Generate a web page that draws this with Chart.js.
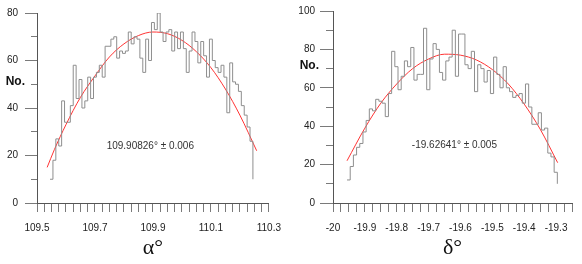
<!DOCTYPE html>
<html><head><meta charset="utf-8">
<script src="https://cdn.jsdelivr.net/npm/chart.js@4.4.1/dist/chart.umd.min.js"></script>
<style>
html,body{margin:0;padding:0;background:#fff;}
#wrap{position:relative;width:582px;height:264px;overflow:hidden;background:#fff;}
canvas{position:absolute;top:0;}
</style></head><body>
<div id="wrap">
<canvas id="c1" width="291" height="264" style="left:0px"></canvas>
<canvas id="c2" width="291" height="264" style="left:291px"></canvas>
</div>
<script>
// ---------------- data ----------------
const binWidth = 0.01;
const alphaBinStart = 109.545;
const alphaCounts = [10,18,27,24,43,34,34,41,58,44,52,40,43,53,44,53,55,58,53,66,
                     66,69,70,61,64,63,64,72,67,70,69,61,55,69,60,76,73,80,72,68,
                     72,73,64,72,65,72,65,55,64,72,68,59,68,62,53,69,60,57,55,58,
                     53,38,59,51,50,47,41,37,32,26];
const alphaEndValue = 10;
const alphaFitX = [109.535,109.56,109.6,109.65,109.7,109.75,109.8,109.85,109.9,109.95,110.0,110.05,110.1,110.15,110.2,110.258];
const alphaFitY = [15,22.5,33,44.5,53.5,61.5,67,70.5,72,71.3,68.5,63.7,57,48,37,22];
const alphaTickLabels = ['109.5','109.7','109.9','110.1','110.3'];
const alphaNote = '109.90826\u00B0 \u00B1 0.006';

const deltaBinStart = -19.956;
const deltaCounts = [12,19,25,29,31,37,43,49,48,54,53,52,45,57,79,71,59,66,74,71,
                     81,64,67,67,91,59,75,83,80,68,64,74,76,90,66,88,88,72,70,79,
                     58,72,70,63,69,57,76,67,60,71,60,58,55,56,57,52,62,50,41,41,
                     47,38,39,26,24,16];
const deltaEndValue = 10;
const deltaFitX = [-19.956,-19.9,-19.85,-19.8,-19.75,-19.7,-19.65,-19.6,-19.55,-19.5,-19.45,-19.4,-19.35,-19.295];
const deltaFitY = [22,39,52,62,70,75,77.5,77,74.5,69.5,62,51.5,38.5,21];
const deltaTickLabels = ['-20','-19.9','-19.8','-19.7','-19.6','-19.5','-19.4','-19.3'];
const deltaNote = '-19.62641\u00B0 \u00B1 0.005';

const yLabelText = 'No.';
// -----------------------------------------------------------------

Chart.defaults.font.family = "'Liberation Sans', Arial, sans-serif";

function histPoints(start, counts, endVal) {
  const pts = counts.map((c, i) => ({x: +(start + i * binWidth).toFixed(4), y: c}));
  pts.push({x: +(start + counts.length * binWidth).toFixed(4), y: endVal});
  return pts;
}

function build(id, o) {
  const textPlugin = {
    id: 'extraText' + id,
    afterDraw(chart) {
      const {ctx} = chart;
      const xs = chart.scales.x, ys = chart.scales.y;
      ctx.save();
      ctx.fillStyle = '#333';
      ctx.font = "10px 'Liberation Sans', Arial, sans-serif";
      ctx.textAlign = 'center';
      ctx.textBaseline = 'middle';
      ctx.fillText(o.note, xs.getPixelForValue(o.noteX), ys.getPixelForValue(o.noteY));
      ctx.fillStyle = '#111';
      ctx.font = "bold 12px 'Liberation Sans', Arial, sans-serif";
      ctx.textAlign = 'right';
      ctx.fillText(yLabelText, o.noRight, ys.getPixelForValue(o.noValue));
      ctx.restore();
    }
  };
  return new Chart(document.getElementById(id), {
    type: 'line',
    data: {
      datasets: [
        {data: histPoints(o.binStart, o.counts, o.endValue), borderColor: '#8e8e8e', borderWidth: 1,
         stepped: true, pointRadius: 0, fill: false},
        {data: o.fitX.map((x, i) => ({x: x, y: o.fitY[i]})), borderColor: 'rgba(255,30,30,0.9)', borderWidth: 1,
         tension: 0.4, cubicInterpolationMode: 'monotone', pointRadius: 0, fill: false}
      ]
    },
    options: {
      responsive: false, animation: false, devicePixelRatio: 1,
      layout: {padding: o.pad},
      plugins: {legend: {display: false}, tooltip: {enabled: false}},
      scales: {
        x: {
          type: 'linear', min: o.xMin, max: o.xMax,
          afterFit: s => { s.height = 61; },
          ticks: {stepSize: 0.025, autoSkip: false, maxRotation: 0, minRotation: 0, padding: 10,
                  color: '#222', font: {size: 10},
                  callback: (v, i) => (i % o.xEvery === 0 && o.xLabels[i / o.xEvery] !== undefined) ? o.xLabels[i / o.xEvery] : ''},
          grid: {drawOnChartArea: false, drawTicks: true, tickLength: 9, tickColor: '#7a7a7a', tickWidth: 1},
          border: {display: true, color: '#555', width: 1},
          title: {display: true, text: o.xTitle, color: '#111',
                  font: {family: "'Liberation Serif', 'Times New Roman', serif", size: 22, lineHeight: 1.2},
                  padding: {top: 0, bottom: 3}}
        },
        y: {
          type: 'linear', min: 0, max: o.yMax,
          afterFit: s => { s.width = o.yWidth; },
          ticks: {stepSize: 10, padding: o.yPad, color: '#222', font: {size: 10},
                  callback: v => (v % 20 === 0) ? String(v) : ''},
          grid: {drawOnChartArea: false, drawTicks: true, tickLength: o.tl, tickColor: '#7a7a7a', tickWidth: 1,
                 tickBorderDash: ctx => (ctx.tick && ctx.tick.value % 20 === 0) ? [] : [0, o.tl - o.minor, o.minor, 100]},
          border: {display: true, color: '#555', width: 1}
        }
      }
    },
    plugins: [textPlugin]
  });
}

build('c1', {
  binStart: alphaBinStart, counts: alphaCounts, endValue: alphaEndValue,
  fitX: alphaFitX, fitY: alphaFitY, xLabels: alphaTickLabels, xEvery: 8,
  xMin: 109.5, xMax: 110.3, yMax: 80, xTitle: '\u03B1\u00B0',
  pad: {top: 12, right: 14, bottom: 0, left: 0}, yWidth: 37, yPad: 7, tl: 12, minor: 6,
  note: alphaNote, noteX: 109.891, noteY: 24, noRight: 25, noValue: 51
});
build('c2', {
  binStart: deltaBinStart, counts: deltaCounts, endValue: deltaEndValue,
  fitX: deltaFitX, fitY: deltaFitY, xLabels: deltaTickLabels, xEvery: 4,
  xMin: -20, xMax: -19.25, yMax: 100, xTitle: '\u03B4\u00B0',
  pad: {top: 11, right: 9, bottom: 0, left: 0}, yWidth: 42, yPad: 5, tl: 13, minor: 7,
  note: deltaNote, noteX: -19.619, noteY: 30, noRight: 28, noValue: 71.5
});
</script>
</body></html>
